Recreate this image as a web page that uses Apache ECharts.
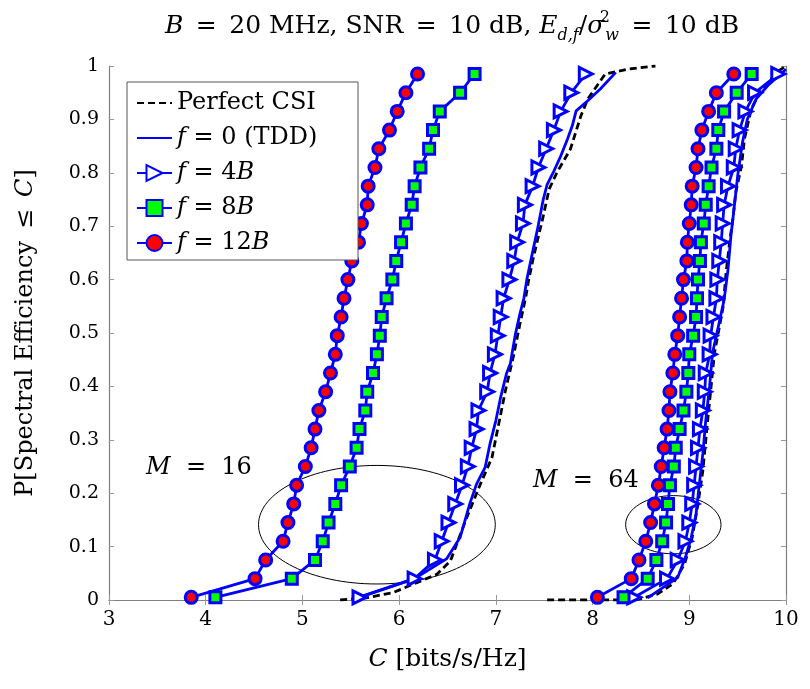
<!DOCTYPE html>
<html>
<head>
<meta charset="utf-8">
<script src="https://cdn.jsdelivr.net/npm/echarts@6/dist/echarts.min.js"></script>
<style>
  html, body { margin: 0; padding: 0; background: #fff; }
  #chart { width: 810px; height: 689px; }
</style>
</head>
<body>
<div id="chart"></div>
<script>
// CDF levels of the marked points (same for every marked curve)
const probs = [0.005, 0.04, 0.075, 0.11, 0.145, 0.18, 0.215, 0.25, 0.285, 0.32,
  0.355, 0.39, 0.425, 0.46, 0.495, 0.53, 0.565, 0.6, 0.635, 0.67,
  0.705, 0.74, 0.775, 0.81, 0.845, 0.88, 0.915, 0.95, 0.985];

// M = 16
const f4_m16 = [5.59, 6.16, 6.37, 6.44, 6.51, 6.58, 6.65, 6.71, 6.75, 6.80,
  6.82, 6.91, 6.94, 6.99, 7.02, 7.05, 7.08, 7.14, 7.19, 7.22,
  7.28, 7.30, 7.38, 7.44, 7.52, 7.60, 7.67, 7.78, 7.93];
const f8_m16 = [4.10, 4.89, 5.13, 5.21, 5.27, 5.34, 5.40, 5.49, 5.56, 5.59,
  5.65, 5.67, 5.73, 5.77, 5.80, 5.82, 5.87, 5.93, 5.97, 6.02,
  6.07, 6.13, 6.16, 6.22, 6.31, 6.35, 6.42, 6.63, 6.78];
const f12_m16 = [3.85, 4.51, 4.62, 4.80, 4.85, 4.91, 4.94, 5.03, 5.09, 5.13,
  5.17, 5.24, 5.29, 5.34, 5.36, 5.40, 5.43, 5.47, 5.51, 5.58,
  5.61, 5.67, 5.68, 5.75, 5.79, 5.90, 5.98, 6.07, 6.19];
const tdd_m16_x = [5.58, 6.16, 6.49, 6.63, 6.73, 6.80, 6.89, 6.94, 7.00, 7.05, 7.11, 7.15, 7.20, 7.25,
  7.29, 7.32, 7.37, 7.43, 7.49, 7.53, 7.60, 7.67, 7.74, 7.79, 7.83, 7.95, 8.08, 8.24];
const tdd_m16_y = [0.005, 0.04, 0.077, 0.117, 0.18, 0.217, 0.249, 0.293, 0.336, 0.38, 0.424, 0.443, 0.496, 0.537,
  0.565, 0.6, 0.643, 0.694, 0.75, 0.778, 0.803, 0.831, 0.863, 0.888, 0.916, 0.935, 0.957, 0.988];
const csi_m16_x = [5.39, 5.66, 5.94, 6.15, 6.39, 6.53, 6.70, 6.84, 6.96, 7.03, 7.10, 7.18, 7.25,
  7.31, 7.34, 7.39, 7.49, 7.55, 7.63, 7.77, 7.88, 7.95, 8.13, 8.36, 8.65];
const csi_m16_y = [0, 0.004, 0.014, 0.03, 0.048, 0.073, 0.155, 0.217, 0.267, 0.33, 0.393, 0.455, 0.518,
  0.568, 0.6, 0.643, 0.719, 0.769, 0.8, 0.844, 0.907, 0.938, 0.985, 0.994, 1.0];

// M = 64
const f4_m64 = [8.43, 8.77, 8.88, 8.96, 9.00, 9.03, 9.05, 9.07, 9.09, 9.11,
  9.14, 9.16, 9.17, 9.21, 9.22, 9.25, 9.28, 9.29, 9.31, 9.33,
  9.345, 9.36, 9.40, 9.46, 9.48, 9.52, 9.58, 9.68, 9.92];
const f8_m64 = [8.32, 8.57, 8.66, 8.72, 8.76, 8.78, 8.80, 8.84, 8.86, 8.90,
  8.94, 8.97, 8.99, 9.00, 9.04, 9.07, 9.08, 9.09, 9.11, 9.12,
  9.15, 9.17, 9.20, 9.23, 9.28, 9.30, 9.36, 9.49, 9.645];
const f12_m64 = [8.05, 8.40, 8.48, 8.55, 8.60, 8.64, 8.68, 8.71, 8.74, 8.77,
  8.79, 8.80, 8.83, 8.85, 8.88, 8.90, 8.92, 8.94, 8.975, 8.98,
  9.00, 9.02, 9.03, 9.07, 9.09, 9.13, 9.20, 9.28, 9.46];
const tdd_m64_x = [8.57, 8.88, 8.96, 9.02, 9.07, 9.10, 9.14, 9.17, 9.21, 9.24, 9.31,
  9.36, 9.40, 9.43, 9.47, 9.50, 9.55, 9.60, 9.69, 9.81, 10.0];
const tdd_m64_y = [0.004, 0.042, 0.08, 0.117, 0.161, 0.211, 0.274, 0.336, 0.4, 0.462, 0.52,
  0.562, 0.618, 0.681, 0.744, 0.794, 0.857, 0.9, 0.938, 0.963, 0.994];
const csi_m64_x = [7.53, 8.45, 8.67, 8.83, 8.95, 9.03, 9.09, 9.14, 9.19, 9.26, 9.32,
  9.35, 9.38, 9.42, 9.45, 9.48, 9.54, 9.57, 9.64, 9.71, 9.90, 10.0];
const csi_m64_y = [0, 0, 0.011, 0.03, 0.067, 0.117, 0.18, 0.242, 0.336, 0.462, 0.52,
  0.549, 0.612, 0.675, 0.712, 0.763, 0.813, 0.863, 0.919, 0.944, 0.988, 1.0];

// ellipses: centre x, centre y, half width, half height (data units)
const ellipses = [[5.77, 0.141, 1.224, 0.111], [8.835, 0.141, 0.493, 0.0545]];
// annotation texts and where they sit
const notes = [[3.93, 0.248, '{i|M}  =  16'], [7.93, 0.224, '{i|M}  =  64']];

const xTicks = [3, 10, 1];
const yTicks = [0, 1, 0.1];

const legendNames = ['Perfect CSI', 'f = 0 (TDD)', 'f = 4B', 'f = 8B', 'f = 12B'];
const legendRich = {
  'Perfect CSI': 'Perfect CSI',
  'f = 0 (TDD)': '{i|f} = 0 (TDD)',
  'f = 4B': '{i|f} = 4{i|B}',
  'f = 8B': '{i|f} = 8{i|B}',
  'f = 12B': '{i|f} = 12{i|B}'
};

const FONT = 'DejaVu Serif';
const BLUE = '#0000ff';
const SP = '\u2002'; // en space, close to TeX spacing around "="

function pairs(xs, ys) {
  return xs.map(function (x, i) { return [x, ys[i]]; });
}

function marked(name, xs, symbol, size, fill, rotate) {
  return {
    name: name,
    type: 'line',
    data: pairs(xs, probs),
    symbol: symbol,
    symbolSize: size,
    symbolRotate: rotate || 0,
    showAllSymbol: true,
    lineStyle: { color: BLUE, width: 2.8 },
    itemStyle: { color: fill, borderColor: BLUE, borderWidth: 3 },
    z: 3
  };
}

function plain(name, xs, ys, dashed) {
  return {
    name: name,
    type: 'line',
    data: pairs(xs, ys),
    symbol: 'none',
    lineStyle: dashed ? { color: '#000', width: 2.8, type: [7, 4] } : { color: BLUE, width: 2.8 },
    itemStyle: { color: dashed ? '#000' : BLUE, opacity: 0 },
    z: 2
  };
}

const chart = echarts.init(document.getElementById('chart'));

const axisGrey = { lineStyle: { color: '#808080', width: 1.2 } };
const tickStyle = { show: true, inside: true, length: 5, lineStyle: { color: '#999', width: 1 } };
const italic = { fontFamily: FONT, fontStyle: 'italic', color: '#000' };

const eq = SP + '=' + SP;

const option = {
  animation: false,
  backgroundColor: '#fff',
  title: {
    text: '{i|B}' + eq + '20 MHz, SNR' + eq + '10 dB, {i|E}{sub|d,f}/{i|σ}{sup|2}{sub|w}' + eq + '10 dB',
    left: 447,
    top: 5,
    textAlign: 'center',
    textStyle: {
      fontFamily: FONT, fontSize: 25, fontWeight: 'normal', color: '#000', lineHeight: 32,
      rich: {
        i: { fontFamily: FONT, fontSize: 25, fontStyle: 'italic', color: '#000', lineHeight: 32 },
        sub: { fontFamily: FONT, fontSize: 16, fontStyle: 'italic', color: '#000', verticalAlign: 'bottom', lineHeight: 32, padding: [0, 0, -2, 0] },
        sup: { fontFamily: FONT, fontSize: 16, color: '#000', verticalAlign: 'top', lineHeight: 32, width: 1 }
      }
    }
  },
  grid: { left: 109, right: 24, top: 66, bottom: 89, show: false },
  legend: {
    data: legendNames,
    orient: 'vertical',
    left: 127,
    top: 82,
    padding: [9, 10, 5, 9],
    itemGap: 11,
    itemWidth: 35,
    itemHeight: 20,
    backgroundColor: '#fff',
    borderColor: '#555',
    borderWidth: 1,
    borderRadius: 0,
    selectedMode: false,
    formatter: function (n) { return legendRich[n]; },
    textStyle: {
      fontFamily: FONT, fontSize: 24, color: '#000', width: 171, lineHeight: 21, overflow: 'none',
      rich: { i: Object.assign({ fontSize: 24, lineHeight: 21 }, italic) }
    }
  },
  xAxis: [{
    type: 'value', min: xTicks[0], max: xTicks[1], interval: xTicks[2], position: 'bottom',
    axisLine: axisGrey, axisTick: tickStyle, splitLine: { show: false },
    axisLabel: { fontFamily: FONT, fontSize: 20, color: '#000', margin: 10 },
    name: '{i|C} [bits/s/Hz]', nameLocation: 'middle', nameGap: 47,
    nameTextStyle: {
      fontFamily: FONT, fontSize: 25, color: '#000',
      rich: { i: Object.assign({ fontSize: 25 }, italic) }
    }
  }, {
    type: 'value', min: xTicks[0], max: xTicks[1], interval: xTicks[2], position: 'top',
    axisLine: axisGrey, axisTick: tickStyle, splitLine: { show: false }, axisLabel: { show: false }
  }],
  yAxis: [{
    type: 'value', min: yTicks[0], max: yTicks[1], interval: yTicks[2], position: 'left',
    axisLine: axisGrey, axisTick: tickStyle, splitLine: { show: false },
    axisLabel: { fontFamily: FONT, fontSize: 19, color: '#000', margin: 10 },
    name: 'P[Spectral Efficiency' + SP + '≤' + SP + '{i|C}]', nameLocation: 'middle', nameGap: 71, nameRotate: 90,
    nameTextStyle: {
      fontFamily: FONT, fontSize: 24, color: '#000',
      rich: { i: Object.assign({ fontSize: 24 }, italic) }
    }
  }, {
    type: 'value', min: yTicks[0], max: yTicks[1], interval: yTicks[2], position: 'right',
    axisLine: axisGrey, axisTick: tickStyle, splitLine: { show: false }, axisLabel: { show: false }
  }],
  series: [
    plain('Perfect CSI', csi_m16_x, csi_m16_y, true),
    plain('Perfect CSI', csi_m64_x, csi_m64_y, true),
    plain('f = 0 (TDD)', tdd_m16_x, tdd_m16_y, false),
    plain('f = 0 (TDD)', tdd_m64_x, tdd_m64_y, false),
    marked('f = 4B', f4_m16, 'triangle', 13, '#fff', -90),
    marked('f = 4B', f4_m64, 'triangle', 13, '#fff', -90),
    marked('f = 8B', f8_m16, 'rect', 11, '#00ff00'),
    marked('f = 8B', f8_m64, 'rect', 11, '#00ff00'),
    marked('f = 12B', f12_m16, 'circle', 12, '#ff0000'),
    marked('f = 12B', f12_m64, 'circle', 12, '#ff0000'),
    {
      // the two ellipses marking M = 16 and M = 64
      type: 'custom',
      data: ellipses,
      encode: { x: 0, y: 1 },
      silent: true,
      z: 1,
      renderItem: function (params, api) {
        var c = api.coord([api.value(0), api.value(1)]);
        var s = api.size([api.value(2), api.value(3)]);
        return {
          type: 'ellipse',
          shape: { cx: c[0], cy: c[1], rx: s[0], ry: s[1] },
          style: { fill: 'none', stroke: '#000', lineWidth: 1 }
        };
      }
    },
    {
      // M labels
      type: 'custom',
      data: notes,
      encode: { x: 0, y: 1 },
      silent: true,
      z: 5,
      renderItem: function (params, api) {
        var c = api.coord([api.value(0), api.value(1)]);
        return {
          type: 'text',
          x: c[0],
          y: c[1],
          style: {
            text: notes[params.dataIndex][2],
            fontFamily: FONT, fontSize: 24, fill: '#000',
            align: 'center', verticalAlign: 'middle',
            rich: { i: { fontFamily: FONT, fontSize: 24, fontStyle: 'italic', fill: '#000' } }
          }
        };
      }
    }
  ]
};

chart.setOption(option);
</script>
</body>
</html>
